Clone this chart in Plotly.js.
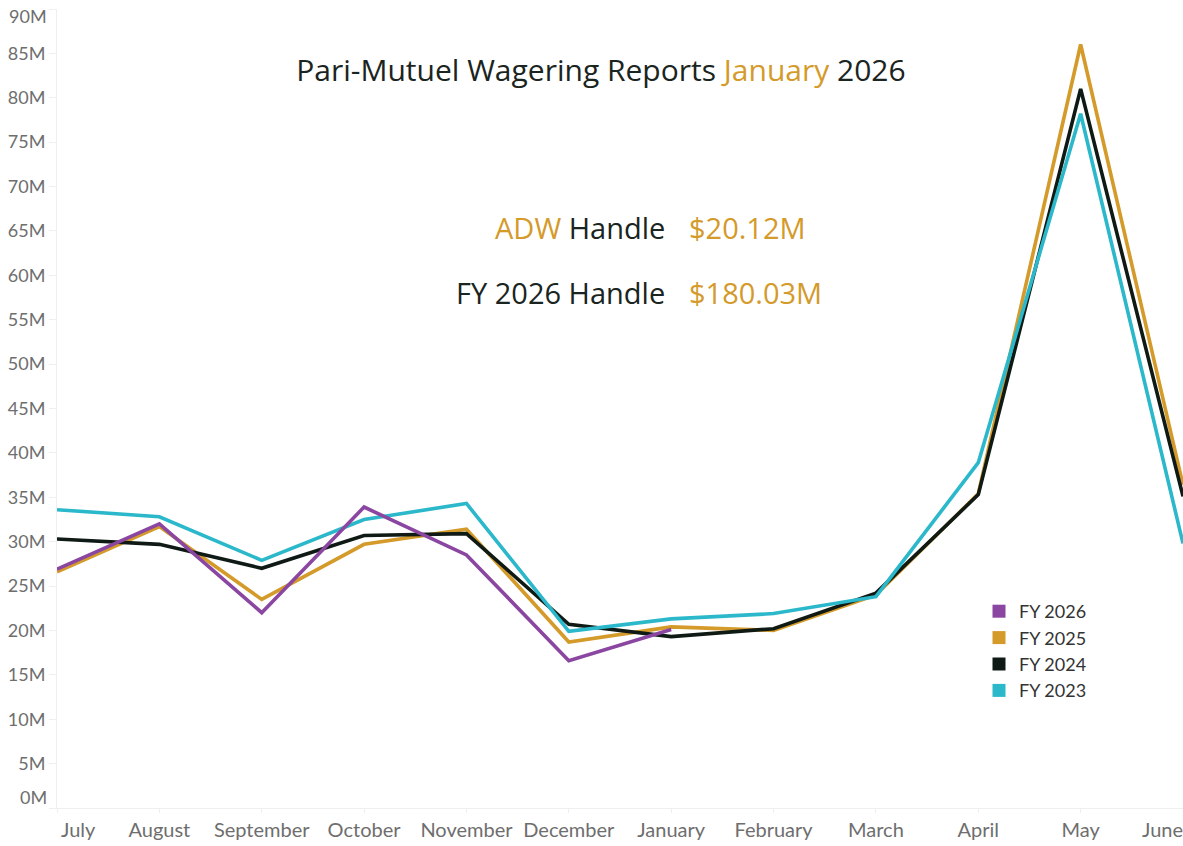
<!DOCTYPE html>
<html>
<head>
<meta charset="utf-8">
<script src="https://cdn.plot.ly/plotly-3.0.1.min.js"></script>
<style>html,body{margin:0;padding:0;background:#fff;}#chart{width:1183px;height:846px;}</style>
</head>
<body>
<div id="chart"></div>
<script>
const months = ["July","August","September","October","November","December","January","February","March","April","May","June"];
const fy2026 = [26.9, 32.0, 22.0, 33.9, 28.5, 16.6, 20.1, null, null, null, null, null];
const fy2025 = [26.6, 31.7, 23.5, 29.7, 31.4, 18.7, 20.4, 20.0, 24.0, 35.4, 86.0, 36.4];
const fy2024 = [30.3, 29.7, 27.0, 30.7, 30.9, 20.7, 19.3, 20.2, 24.2, 35.3, 81.0, 35.1];
const fy2023 = [33.6, 32.8, 27.9, 32.5, 34.3, 19.9, 21.3, 21.9, 23.8, 38.9, 78.2, 29.8];
const seriesNames = ["FY 2026","FY 2025","FY 2024","FY 2023"];
const yTickVals = [0,5,10,15,20,25,30,35,40,45,50,55,60,65,70,75,80,85,90];
const yTickText = yTickVals.map(v => v + "M");

const colors = {"FY 2026":"#8A46A0","FY 2025":"#D49A2A","FY 2024":"#0F1A15","FY 2023":"#2BB8CA"};
const dataBy = {"FY 2026":fy2026,"FY 2025":fy2025,"FY 2024":fy2024,"FY 2023":fy2023};
const drawOrder = ["FY 2025","FY 2024","FY 2023","FY 2026"];

const traces = [];
drawOrder.forEach(n => {
  traces.push({type:"scatter", mode:"lines", name:n, x:months, y:dataBy[n],
    line:{color:colors[n], width:3.6}, showlegend:false, connectgaps:false, hoverinfo:"x+y+name"});
});
seriesNames.forEach((n,i) => {
  traces.push({type:"scatter", mode:"markers", name:n, x:[null], y:[null],
    marker:{symbol:"square", size:13, color:colors[n]}, showlegend:true, legendrank:i+1});
});

const gold = "#D49A2A", dark = "#1A2420";
const yTickFont = {family:"Lato, 'Open Sans', sans-serif", size:18, color:"#6E6E6E"};
const xTickFont = {family:"Lato, 'Open Sans', sans-serif", size:20, color:"#6E6E6E"};
const bigFont = "'Open Sans', sans-serif";

const last = yTickVals.length - 1;
const xTickText = months.map((m,i) => (i===0 || i===months.length-1) ? "" : m);
const yTickTextShown = yTickText.map((t,i) => (i===0 || i===last) ? "" : t);

const layout = {
  width:1183, height:846,
  margin:{l:57, r:0, t:9, b:38, pad:0},
  paper_bgcolor:"#fff", plot_bgcolor:"#fff",
  title:{text:"Pari-Mutuel Wagering Reports <span style='color:"+gold+"'>January</span> 2026",
    font:{family:bigFont, size:30, color:dark},
    x:0.508, xanchor:"center", y:1-70/846, yanchor:"middle", xref:"container", yref:"container"},
  xaxis:{type:"category", range:[0, months.length-1], showgrid:false, zeroline:false,
    showline:true, linecolor:"#EFEFEF", linewidth:1,
    ticks:"outside", ticklen:4, tickcolor:"#EFEFEF",
    tickvals:months, ticktext:xTickText, tickfont:xTickFont, fixedrange:true},
  yaxis:{range:[0,90], showgrid:false, zeroline:false,
    showline:true, linecolor:"#EFEFEF", linewidth:1,
    ticks:"outside", ticklen:7, tickcolor:"#EFEFEF",
    tickvals:yTickVals, ticktext:yTickTextShown, tickfont:yTickFont, fixedrange:true},
  showlegend:true,
  legend:{x:(979-57)/1126, xanchor:"left", y:(808-593)/799, yanchor:"top",
    font:{family:"Lato, 'Open Sans', sans-serif", size:18, color:"#333"},
    bgcolor:"rgba(0,0,0,0)", itemwidth:30, traceorder:"normal"},
  annotations:[
    {xref:"paper", yref:"paper", x:(667-57)/1126, y:(808-228)/799, xanchor:"right", yanchor:"middle",
     text:"<span style='color:"+gold+"'>ADW</span> Handle", showarrow:false,
     font:{family:bigFont, size:29, color:dark}},
    {xref:"paper", yref:"paper", x:(687-57)/1126, y:(808-228)/799, xanchor:"left", yanchor:"middle",
     text:"$20.12M", showarrow:false,
     font:{family:bigFont, size:29, color:gold}},
    {xref:"paper", yref:"paper", x:(667-57)/1126, y:(808-292)/799, xanchor:"right", yanchor:"middle",
     text:"FY 2026 Handle", showarrow:false,
     font:{family:bigFont, size:29, color:dark}},
    {xref:"paper", yref:"paper", x:(687-57)/1126, y:(808-292)/799, xanchor:"left", yanchor:"middle",
     text:"$180.03M", showarrow:false,
     font:{family:bigFont, size:29, color:gold}},
    {xref:"x", yref:"paper", x:months[0], y:0, yanchor:"top", yshift:-7, xshift:21, xanchor:"center",
     text:months[0], showarrow:false, font:xTickFont},
    {xref:"x", yref:"paper", x:months[months.length-1], y:0, yanchor:"top", yshift:-7, xshift:-21, xanchor:"center",
     text:months[months.length-1], showarrow:false, font:xTickFont},
    {xref:"paper", yref:"y", x:0, y:yTickVals[0], xanchor:"right", yanchor:"middle", xshift:-8, yshift:11,
     text:yTickText[0], showarrow:false, font:yTickFont},
    {xref:"paper", yref:"y", x:0, y:yTickVals[last], xanchor:"right", yanchor:"middle", xshift:-8, yshift:-7,
     text:yTickText[last], showarrow:false, font:yTickFont}
  ]
};

Plotly.newPlot("chart", traces, layout, {displayModeBar:false, staticPlot:true});
</script>
</body>
</html>
